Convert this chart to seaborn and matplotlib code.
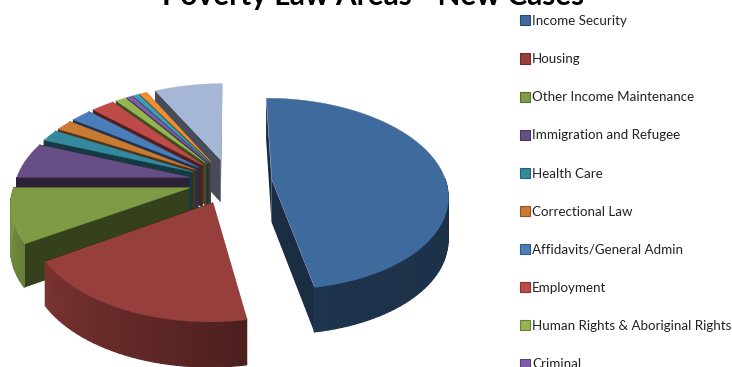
import numpy as np
import matplotlib
matplotlib.use("Agg")
import matplotlib.pyplot as plt
from matplotlib.collections import PolyCollection
from matplotlib.patches import Patch
from matplotlib.colors import to_rgb
import seaborn as sns

categories = ["Income Security", "Housing", "Other Income Maintenance",
              "Immigration and Refugee", "Health Care", "Correctional Law",
              "Affidavits/General Admin", "Employment",
              "Human Rights & Aboriginal Rights", "Criminal",
              "Other 1", "Other 2", "Other 3"]
shares = [47.2, 18.8, 9.0, 6.0, 2.0, 1.8, 2.2, 2.5, 1.1, 0.6, 0.6, 0.8, 7.4]
top_colours = ["#3f6a9e", "#973f3d", "#7f9b46", "#674e85", "#35899f", "#c97a33",
               "#4a7ebb", "#be4b48", "#94b550", "#7b5ea7", "#3aa0b8", "#ee8f33",
               "#a6b6d6"]
LEGEND_ROWS = 10

# Projection of the tilted pie onto the page, in pixels
CX, CY = 230, 181
RX, RY = 174, 94
PERSPECTIVE = 0.15
EXPLODE = 0.24
DEPTH = 43

sns.set_theme(style="white")
palette = sns.color_palette(top_colours)

fig = plt.figure(figsize=(7.32, 3.67), dpi=100)
ax = fig.add_axes([0, 0, 1, 1])
ax.set_xlim(0, 732)
ax.set_ylim(367, 0)
ax.axis("off")


def project(theta, radius, offset, drop=0.0):
    """Map a point on the pie plane (clockwise from 12 o'clock) to the page."""
    u = radius * np.sin(theta) + offset[0]
    v = radius * np.cos(theta) + offset[1]
    s = 1 / (1 + PERSPECTIVE * v)
    return np.column_stack([CX + RX * u * s, CY - RY * v * s + drop * s ** 0.3])


def wall_shade(theta):
    deg = np.degrees(theta)
    return np.interp(deg, [0, 165, 240, 270, 360], [0.42, 0.48, 0.82, 0.97, 0.97])


def darker(colour, factor):
    return tuple(np.clip(np.array(to_rgb(colour)) * factor, 0, 1))


edges = np.cumsum([0] + shares) / sum(shares) * 2 * np.pi

# Back slices first so that nearer ones cover their walls
for i in reversed(range(len(shares))):
    start, end = edges[i], edges[i + 1]
    mid = (start + end) / 2
    offset = (EXPLODE * np.sin(mid), EXPLODE * np.cos(mid))
    arc = np.linspace(start, end, max(int(np.degrees(end - start) / 2), 3))
    colour = palette[i]

    apex_top = project(np.array([0.0]), 0.0, offset)
    apex_low = project(np.array([0.0]), 0.0, offset, DEPTH)
    rim_top = project(arc, 1.0, offset)
    rim_low = project(arc, 1.0, offset, DEPTH)

    # Flat radial walls
    radial = [np.vstack([apex_top, rim_top[k], rim_low[k], apex_low]) for k in (0, -1)]
    ax.add_collection(PolyCollection(radial, facecolors=[darker(colour, 0.42)] * 2,
                                     edgecolors="none"))

    # Curved outer wall, shaded strip by strip; only the part turned to the viewer shows
    visible = [k for k in range(len(arc) - 1) if np.cos((arc[k] + arc[k + 1]) / 2) < 0]
    if visible:
        strips = [np.vstack([rim_top[k], rim_top[k + 1], rim_low[k + 1], rim_low[k]])
                  for k in visible]
        shades = [darker(colour, wall_shade((arc[k] + arc[k + 1]) / 2)) for k in visible]
        ax.add_collection(PolyCollection(strips, facecolors=shades, edgecolors=shades,
                                         linewidths=0.9))

    # Top face
    ax.add_collection(PolyCollection([np.vstack([apex_top, rim_top])],
                                     facecolors=[colour], edgecolors=[colour], linewidths=0.3))

ax.text(373, 5, "Poverty Law Areas - New Cases", ha="center", va="baseline",
        fontsize=21.4, fontweight="bold", family="Lato", color="black")

handles = [Patch(facecolor=palette[i], edgecolor=darker(palette[i], 0.7), linewidth=0.8,
                 label=categories[i]) for i in range(LEGEND_ROWS)]
ax.legend(handles=handles, loc="upper left", bbox_to_anchor=(520 / 732, 1 - 15 / 367),
          frameon=False, prop={"family": "Lato", "size": 9.65}, labelcolor="#222222",
          handlelength=0.78, handleheight=0.78, handletextpad=0.12, labelspacing=1.95,
          borderaxespad=0, borderpad=0)

fig.savefig("out.png", dpi=100)
